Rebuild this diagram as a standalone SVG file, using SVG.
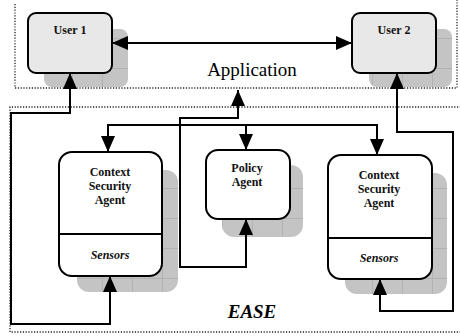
<svg xmlns="http://www.w3.org/2000/svg" width="460" height="336" viewBox="0 0 460 336">
<style>
.dot{fill:none;stroke:#222;stroke-width:1.3;stroke-dasharray:1.2 1.6}
.box{stroke:#000;stroke-width:2}
.user{fill:#e8e8e8}
.agent{fill:#fff}
.shadow{fill:url(#grid)}
.con{fill:none;stroke:#000;stroke-width:2}
.lbl{font-family:"Liberation Serif","Times New Roman",serif;font-weight:bold;font-size:12px;text-anchor:middle;fill:#111}
.it{font-style:italic}
.big{font-family:"Liberation Serif","Times New Roman",serif;font-size:19px;text-anchor:middle;fill:#000}
</style>
<defs>
<pattern id="grid" patternUnits="userSpaceOnUse" width="30" height="30" x="12" y="8">
<rect width="30" height="30" fill="#c4c4c4"/>
<path d="M0 0.5H30M0.5 0V30" stroke="#b2b2b2" stroke-width="1"/>
</pattern>
<marker id="ah" markerUnits="userSpaceOnUse" markerWidth="16" markerHeight="16" viewBox="0 0 16 14" refX="16" refY="7" orient="auto-start-reverse">
<path d="M0 0L16 7L0 14Z" fill="#000"/>
</marker>
</defs>

<path class="dot" d="M15 4V88H457V0"/>
<path class="dot" d="M461 107H10V332H461"/>

<g id="user1">
<rect class="shadow" x="44" y="29" width="84" height="58" rx="8"/>
<rect class="box user" x="28" y="13" width="84" height="60" rx="8"/>
<text class="lbl" x="70" y="34">User 1</text>
</g>
<g id="user2">
<rect class="shadow" x="369" y="29" width="83" height="58" rx="8"/>
<rect class="box user" x="352" y="13" width="84" height="60" rx="8"/>
<text class="lbl" x="394" y="34">User 2</text>
</g>
<g id="application">
<text class="big" x="252" y="76">Application</text>
</g>
<g id="csa1">
<rect class="shadow" x="77" y="170" width="101" height="122" rx="12"/>
<rect class="box agent" x="59" y="152" width="103" height="124" rx="13"/>
<line class="box" x1="59" y1="234" x2="162" y2="234"/>
<text class="lbl" x="110" y="176">Context</text>
<text class="lbl" x="110" y="190">Security</text>
<text class="lbl" x="110" y="204">Agent</text>
<text class="lbl it" x="110" y="259">Sensors</text>
</g>
<g id="policy">
<rect class="shadow" x="222" y="165" width="81" height="72" rx="12"/>
<rect class="box agent" x="206" y="150" width="84" height="69" rx="12"/>
<text class="lbl" x="247" y="172">Policy</text>
<text class="lbl" x="247" y="186">Agent</text>
</g>
<g id="csa2">
<rect class="shadow" x="345" y="173" width="102" height="121" rx="12"/>
<rect class="box agent" x="328" y="155" width="104" height="124" rx="13"/>
<line class="box" x1="328" y1="238" x2="432" y2="238"/>
<text class="lbl" x="379" y="179">Context</text>
<text class="lbl" x="379" y="193">Security</text>
<text class="lbl" x="379" y="207">Agent</text>
<text class="lbl it" x="379" y="262">Sensors</text>
</g>
<g id="ease">
<text class="big" x="252" y="318" font-weight="bold" font-style="italic">EASE</text>
</g>

<g id="connectors">
<path class="con" d="M112 43H352" marker-start="url(#ah)" marker-end="url(#ah)"/>
<path class="con" d="M110 276V324H11V113H70V73" marker-start="url(#ah)" marker-end="url(#ah)"/>
<path class="con" d="M380 279V311H453V132H397V73" marker-start="url(#ah)" marker-end="url(#ah)"/>
<path class="con" d="M246 219V267H180V118H238V90" marker-start="url(#ah)" marker-end="url(#ah)"/>
<path class="con" d="M108 152V125H377V155" marker-start="url(#ah)" marker-end="url(#ah)"/>
<path class="con" d="M246 125V150" marker-end="url(#ah)"/>
</g>
</svg>
